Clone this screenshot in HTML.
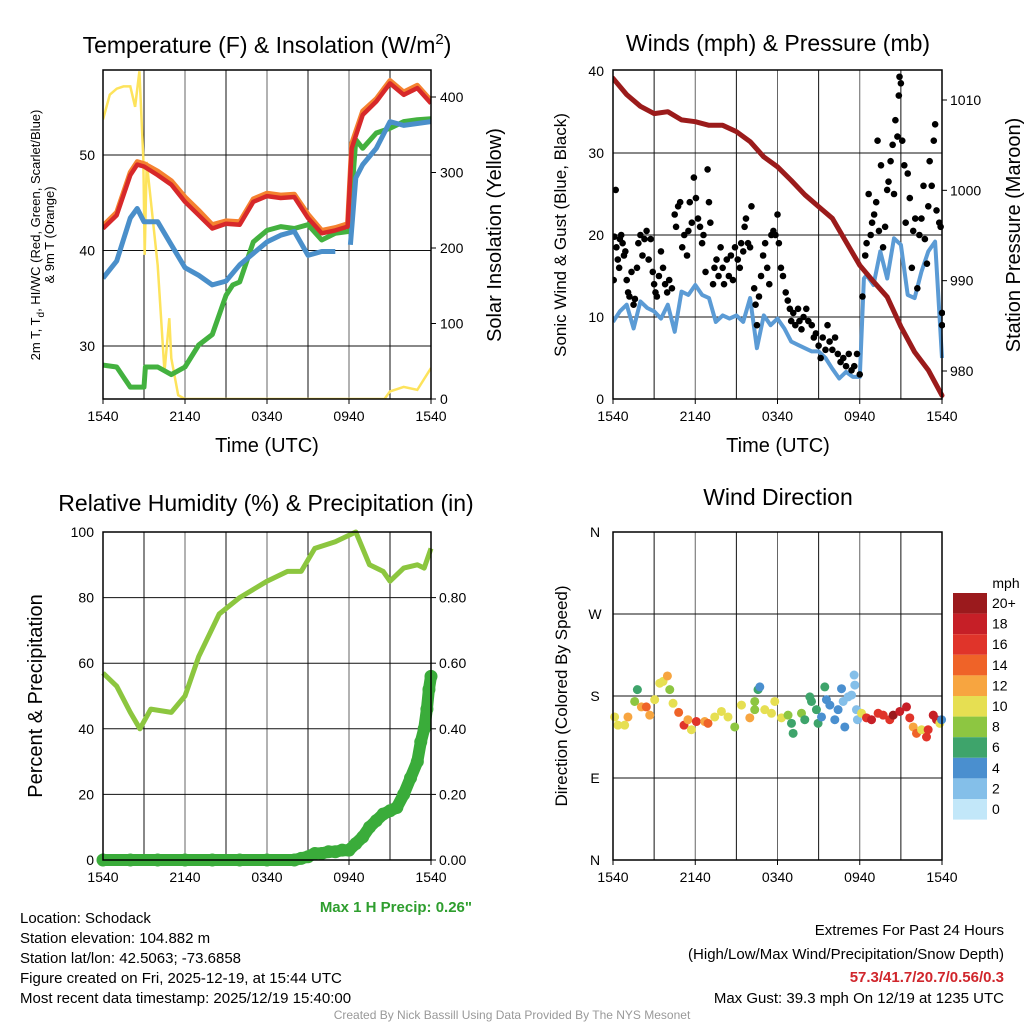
<!DOCTYPE html>
<html><head><meta charset="utf-8"><style>
body{margin:0;background:#fff;}
svg{display:block;font-family:"Liberation Sans",sans-serif;}
</style></head><body>
<svg id="s" width="1024" height="1024" viewBox="0 0 1024 1024"></svg>
<script>
// ---------- DATA ----------
const tHours=[0,1,2,2.5,3,4,5,6,7,8,9,10,11,12,13,14,15,16,17,17.9,18.2,19,20,21,22,23,24];
const tempVals=[42.3,43.7,47.9,49,48.8,47.9,46.9,45.1,43.7,42.3,42.8,42.7,45.1,45.7,45.5,45.6,43.4,41.8,42.1,42.5,50.7,54.2,55.6,57.5,56.3,57,55.4];
const temp9Vals=[42.6,44,48.2,49.3,49.1,48.3,47.3,45.6,44.2,42.7,43.1,43,45.4,46,45.8,45.9,43.8,42.1,42.4,42.8,51.2,54.6,55.9,57.8,56.6,57.3,55.7];
const tdHours=[0,1,2,3,3.1,4,5,6,7,8,9,9.5,10,11,12,13,14,15,16,17,18,18.5,19,20,21,22,23,24];
const tdVals=[28,27.8,25.7,25.7,27.8,27.8,27,27.8,30.1,31.2,35.3,36.4,36.7,40.9,42.1,42.5,42.3,42.7,41.1,41.8,42,51.6,50.7,52.3,52.8,53.5,53.7,53.8];
const wcHours=[0,1,2,2.5,3,4,5,6,7,8,9,10,11,12,13,14,15,16,17,17.5,18.1,18.5,19,20,21,22,23,24];
const wcVals=[37.1,38.9,43.4,44.4,43,43,40.6,38.2,37.4,36.4,36.8,38.5,39.7,40.9,41.6,42,39.5,39.9,39.9,null,40.6,47.6,49,50.7,53.5,53.1,53.3,53.5];
const solarHours=[0,0.5,1,1.5,2,2.35,2.66,2.95,3.05,3.2,4,4.5,4.85,5,5.5,6,20.6,21,22,23,24];
const solarVals=[370,403,411,414,414,387,434,319,191,314,177,36,107,54,5,0,0,10,16,12,41];
const presHours=[0,1,2,3,4,5,6,7,8,9,10,11,12,13,14,15,16,17,18,19,20,21,22,23,24];
const presVals=[1012.4,1010.6,1009.3,1008.5,1008.7,1007.8,1007.6,1007.2,1007.2,1006.5,1005.4,1003.7,1002.6,1001.1,999.5,998.2,996.9,994.3,991.7,989.9,988.2,984.9,982.1,980.1,977.3];
const windHours=[0,0.5,1,1.5,2,2.5,3,3.5,4,4.5,5,5.5,6,6.5,7,7.5,8,8.5,9,9.5,10,10.5,11,11.5,12,12.5,13,13.5,14,14.5,15,15.5,16,16.5,17,17.5,18,18.3,18.5,19,19.5,20,20.5,21,21.5,22,22.5,23,23.5,24];
const windVals=[9.4,10.7,11.5,8.6,11.9,11.1,10.7,9.8,11.5,8.2,13.1,12.7,13.9,12.7,12.3,9.4,10.2,9.8,10.2,9.4,12.3,6.2,10.2,9,9.8,8.6,7,6.6,6.2,5.8,5.8,5,3.7,2.5,3.3,2.7,2.7,14.7,15.1,13.9,18,14.7,19.6,18.8,12.7,12.3,15.5,18,19.2,5];
const gustHours=[0.05,0.1,0.2,0.25,0.35,0.45,0.5,0.6,0.7,0.8,0.9,1.0,1.1,1.2,1.35,1.5,1.6,1.75,1.85,2.0,2.15,2.3,2.45,2.6,2.75,2.9,3.0,3.1,3.2,3.35,3.5,3.65,3.8,3.95,4.1,4.3,4.5,4.6,4.75,4.9,5.05,5.2,5.4,5.5,5.6,5.75,5.9,6.05,6.2,6.35,6.5,6.6,6.75,6.9,7.0,7.1,7.3,7.4,7.55,7.7,7.85,8.0,8.1,8.3,8.45,8.6,8.75,8.9,9.1,9.25,9.35,9.5,9.6,9.7,9.85,10.0,10.1,10.3,10.4,10.5,10.65,10.8,10.95,11.1,11.25,11.4,11.55,11.7,11.85,12.0,12.1,12.25,12.4,12.6,12.75,12.9,13.0,13.15,13.3,13.5,13.6,13.75,13.9,14.1,14.25,14.5,14.65,14.8,15.0,15.15,15.3,15.5,15.65,15.8,16.0,16.2,16.4,16.6,16.8,17.0,17.2,17.4,17.6,17.8,18.0,18.2,18.4,18.5,18.65,18.8,18.9,19.05,19.2,19.3,19.4,19.55,19.7,19.85,20.0,20.1,20.25,20.4,20.5,20.6,20.75,20.85,20.9,21.0,21.1,21.25,21.35,21.5,21.65,21.8,21.9,22.05,22.2,22.35,22.5,22.65,22.75,22.9,23.0,23.1,23.25,23.4,23.5,23.6,23.8,23.9,24.0,24.0];
const gustVals=[14.5,19.8,25.5,18.5,17,16,19.5,20,19,17.5,18,14.5,13,12.5,15.5,11.5,12.2,16,19,20,17.5,19.5,20.5,17,19.5,15.5,14,13,12.5,15,18,16,14,13,14.5,13.5,22.5,21,23.5,24,18.5,20,17.5,20.5,24,21.5,27,24.5,22,21,19,20,15.5,28,24,21.5,14,16,17,15,18.5,16,14,17,15,17.5,14.5,18.5,17,16,19,18,21,22,19,18.5,23.5,13.5,11.5,9,12.5,15,17.5,19,16,14,20,20.5,20,22.5,19,16,15,13,12,11,9.5,10.5,9,11,9.5,8.5,10,11,9.5,9,7.5,8,6.5,5,7.5,6,9,7,6,7.5,5.5,4.5,5,4,5.5,3.5,4,5.5,3,12.5,17.5,19,25,20,21.5,22.5,24,31.5,20.5,28.5,18.5,21,25.5,26.5,29,31,25,34,32,37,39.3,38.5,31.5,28.5,21.5,27.5,24.5,16,20.5,22,13.5,20,22,26,19.5,16.5,23.5,29,26,31.5,33.5,23,21.5,21,10.5,9];
const rhHours=[0,1,2,2.7,3.5,5,6,7,8.5,10,12,13.5,14.5,15.5,17,18,18.5,19.5,20.5,21,22,23,23.5,24];
const rhVals=[57,53,45,40,46,45,50,62,75,80,85,88,88,95,97,99,100,90,88,85,89,90,89,95];
const pcpHours=[0,2,4,6,8,10,12,14,14.5,15,15.5,16,16.5,17,17.5,18,18.5,19,19.5,20,20.5,21,21.5,22,22.5,23,23.25,23.5,23.7,23.85,24];
const pcpVals=[0,0,0,0,0,0,0,0,0.005,0.01,0.02,0.02,0.025,0.025,0.03,0.03,0.05,0.07,0.1,0.12,0.14,0.15,0.16,0.2,0.25,0.3,0.36,0.4,0.46,0.52,0.56];
const dirHours=[0.12,0.36,0.85,1.09,1.58,1.78,2.07,2.43,2.68,3.04,3.41,3.65,3.97,4.14,4.38,4.79,5.18,5.47,5.72,6.08,6.69,6.93,7.42,7.91,8.39,8.88,9.37,9.98,10.34,10.34,10.58,10.71,11.07,11.56,11.8,12.29,12.77,13.02,13.14,13.75,13.99,14.36,14.48,14.84,14.96,15.21,15.45,15.57,15.82,16.18,16.42,16.67,16.79,16.91,17.15,17.4,17.59,17.64,17.76,17.83,18.13,18.49,18.86,19.34,19.71,20.19,20.44,20.92,21.41,21.65,21.9,22.14,22.51,22.87,22.99,23.36,23.6,23.84,23.97];
const dirVals=[157,148,148,157,174,187,168,168,159,176,194,196,202,187,172,162,148,154,143,152,152,150,157,163,157,146,170,156,165,174,187,190,165,161,174,156,159,150,139,161,154,179,174,165,150,157,190,176,170,154,165,188,174,146,179,181,203,192,165,154,161,156,154,161,159,154,159,163,168,156,146,139,143,135,143,159,154,150,154];
const dirSpeeds=[9,10,10,12,7,6,12,14,12,10,10,10,12,8,10,14,15,12,10,15,12,14,10,10,9,8,10,12,7,7,6,4,10,10,10,10,8,6,6,7,6,6,6,6,6,4,6,4,3,4,4,4,2,4,2,2,2,2,2,2,10,16,17,15,16,16,19,18,17,16,12,13,10,16,15,17,17,10,4];
const speedLabels=["20+","18","16","14","12","10","8","6","4","2","0"];
const speedColors=["#9b1a1d","#c61f27","#e0342a","#ef6328","#f7a540","#e6df52","#8dc641","#3ea46b","#4a8fcf","#84bfe9","#c2e7f9"];
const timeLabels=["1540","2140","0340","0940","1540"];

// ---------- HELPERS ----------
const NS="http://www.w3.org/2000/svg", S=document.getElementById('s');
function el(tag,attrs,parent,txt){const e=document.createElementNS(NS,tag);for(const k in attrs)e.setAttribute(k,attrs[k]);if(txt!==undefined)e.textContent=txt;(parent||S).appendChild(e);return e;}
function lin(d0,d1,r0,r1){return v=>r0+(v-d0)*(r1-r0)/(d1-d0);}
function pathFrom(xs,ys,fx,fy){let d="",pen=false;for(let i=0;i<xs.length;i++){if(ys[i]===null){pen=false;continue;}d+=(pen?"L":"M")+fx(xs[i]).toFixed(1)+","+fy(ys[i]).toFixed(1);pen=true;}return d;}
function text(x,y,s,size,anchor,extra,name){const t=el('text',Object.assign({x:x,y:y,'font-size':size,'text-anchor':anchor||'middle',fill:'#000'},extra||{}),S,s);return t;}
function frame(x0,y0,x1,y1,name){
  const g=el('g',{});
  for(let h=3;h<24;h+=3){const x=x0+(x1-x0)*h/24;el('line',{x1:x,y1:y0,x2:x,y2:y1,stroke:h%6?'#111':'#666','stroke-width':1},g);}
  for(let i=0;i<5;i++){const x=x0+(x1-x0)*i/4;el('line',{x1:x,y1:y1,x2:x,y2:y1+5,stroke:'#000'},g);
    const t=text(x,y1+22,timeLabels[i],14,'middle',{},'x-tick-label');}
  return g;}
function box(x0,y0,x1,y1){const r=el('rect',{x:x0,y:y0,width:x1-x0,height:y1-y0,fill:'none',stroke:'#000','stroke-width':1.5});}

// ---------- PANEL 1 ----------
{const X0=103,X1=431,Y0=70,Y1=399;
 const fx=lin(0,24,X0,X1), fy=lin(30,50,346,155), fs=lin(0,400,399,97);
 frame(X0,Y0,X1,Y1,'temperature-grid');
 [30,40,50].forEach(v=>{el('line',{x1:X0,x2:X1,y1:fy(v),y2:fy(v),stroke:'#111'});const t=text(X0-8,fy(v)+5,String(v),14,'end',{},'y-tick-label');});
 [0,100,200,300,400].forEach(v=>{el('line',{x1:X1,x2:X1+5,y1:fs(v),y2:fs(v),stroke:'#000'});text(X1+9,fs(v)+5,String(v),14,'start',{},'solar-tick-label');});
 const cp=el('clipPath',{id:'c1'});el('rect',{x:X0,y:Y0,width:X1-X0,height:Y1-Y0},cp);
 const g=el('g',{'clip-path':'url(#c1)'});
 let p;
 p=el('path',{d:pathFrom(solarHours,solarVals,fx,fs),fill:'none',stroke:'#fde35c','stroke-width':2.5},g);
 p=el('path',{d:pathFrom(tdHours,tdVals,fx,fy),fill:'none',stroke:'#43b13f','stroke-width':5,'stroke-linejoin':'round'},g);
 p=el('path',{d:pathFrom(wcHours,wcVals,fx,fy),fill:'none',stroke:'#4a8fca','stroke-width':5,'stroke-linejoin':'round'},g);
 p=el('path',{d:pathFrom(tHours,temp9Vals,fx,fy),fill:'none',stroke:'#f58230','stroke-width':5,'stroke-linejoin':'round'},g);
 p=el('path',{d:pathFrom(tHours,tempVals,fx,fy),fill:'none',stroke:'#d7282a','stroke-width':4.5,'stroke-linejoin':'round'},g);
 box(X0,Y0,X1,Y1);
 const t=text(267,53,'',23,'middle',{},'temperature-title');t.innerHTML='Temperature (F) &amp; Insolation (W/m<tspan dy="-9" font-size="15">2</tspan><tspan dy="9">)</tspan>';
 text(267,452,'Time (UTC)',20,'middle',{},'x-axis-title');
 const a=text(0,0,'',13,'middle',{transform:'translate(40,235) rotate(-90)'},'temperature-y-axis-title');a.innerHTML='2m T, T<tspan dy="4" font-size="10">d</tspan><tspan dy="-4">, HI/WC (Red, Green, Scarlet/Blue)</tspan>';
 text(0,0,'',13,'middle',{transform:'translate(54,235) rotate(-90)'},'temperature-y-axis-title-2').textContent='& 9m T (Orange)';
 text(0,0,'Solar Insolation (Yellow)',20,'middle',{transform:'translate(501,235) rotate(-90)'},'solar-y-axis-title');
}
// ---------- PANEL 2 ----------
{const X0=613,X1=942,Y0=70,Y1=399;
 const fx=lin(0,24,X0,X1), fy=lin(0,40,399,71), fp=lin(980,1010,371,100);
 frame(X0,Y0,X1,Y1,'winds-grid');
 [0,10,20,30,40].forEach(v=>{if(v>0&&v<40)el('line',{x1:X0,x2:X1,y1:fy(v),y2:fy(v),stroke:'#111'});text(X0-9,fy(v)+5,String(v),14,'end',{},'wind-tick-label');});
 [980,990,1000,1010].forEach(v=>{el('line',{x1:X1,x2:X1+5,y1:fp(v),y2:fp(v),stroke:'#000'});text(X1+8,fp(v)+5,String(v),14,'start',{},'pressure-tick-label');});
 const cp=el('clipPath',{id:'c2'});el('rect',{x:X0,y:Y0-3,width:X1-X0+3,height:Y1-Y0+6},cp);
 const g=el('g',{'clip-path':'url(#c2)'});
 let p=el('path',{d:pathFrom(windHours,windVals,fx,fy),fill:'none',stroke:'#5b9bd5','stroke-width':4,'stroke-linejoin':'round'},g);
 for(let i=0;i<gustHours.length;i++){const c=el('circle',{cx:fx(gustHours[i]),cy:fy(gustVals[i]),r:3.3,fill:'#000'},g);}
 p=el('path',{d:pathFrom(presHours,presVals,fx,fp),fill:'none',stroke:'#9b1b1b','stroke-width':5,'stroke-linejoin':'round','stroke-linecap':'round'},g);
 box(X0,Y0,X1,Y1);
 text(778,51,'Winds (mph) & Pressure (mb)',23,'middle',{},'winds-title');
 text(778,452,'Time (UTC)',20,'middle',{},'x-axis-title-2');
 text(0,0,'Sonic Wind & Gust (Blue, Black)',17,'middle',{transform:'translate(566,235) rotate(-90)'},'wind-y-axis-title');
 text(0,0,'Station Pressure (Maroon)',20,'middle',{transform:'translate(1020,235) rotate(-90)'},'pressure-y-axis-title');
}
// ---------- PANEL 3 ----------
{const X0=103,X1=431,Y0=532,Y1=860;
 const fx=lin(0,24,X0,X1), fy=lin(0,100,860,532), fr=lin(0,1,860,532);
 frame(X0,Y0,X1,Y1,'humidity-grid');
 [0,20,40,60,80,100].forEach(v=>{if(v>0&&v<100)el('line',{x1:X0,x2:X1,y1:fy(v),y2:fy(v),stroke:'#111'});text(X0-9,fy(v)+5,String(v),14,'end',{},'rh-tick-label');});
 [0,0.2,0.4,0.6,0.8].forEach(v=>{el('line',{x1:X1,x2:X1+5,y1:fr(v),y2:fr(v),stroke:'#000'});text(X1+8,fr(v)+5,v.toFixed(2),14,'start',{},'precip-tick-label');});
 let p=el('path',{d:pathFrom(rhHours,rhVals,fx,fy),fill:'none',stroke:'#8cc63f','stroke-width':5,'stroke-linejoin':'round'});
 p=el('path',{d:pathFrom(pcpHours,pcpVals,fx,fr),fill:'none',stroke:'#3aac3a','stroke-width':12,'stroke-linejoin':'round','stroke-linecap':'round'});
 for(let i=0;i<pcpHours.length;i++){const c=el('circle',{cx:fx(pcpHours[i]),cy:fr(pcpVals[i]),r:6.5,fill:'#3aac3a'});}
 box(X0,Y0,X1,Y1);
 text(266,511,'Relative Humidity (%) & Precipitation (in)',23,'middle',{},'humidity-title');
 text(0,0,'Percent & Precipitation',20,'middle',{transform:'translate(42,696) rotate(-90)'},'rh-y-axis-title');
 text(472,912,'Max 1 H Precip: 0.26"',15,'end',{fill:'#2e9e2e','font-weight':'bold'},'max-precip-label');
}
// ---------- PANEL 4 ----------
{const X0=613,X1=942,Y0=532,Y1=860;
 const fx=lin(0,24,X0,X1), fy=lin(0,360,860,532);
 frame(X0,Y0,X1,Y1,'direction-grid');
 const dl=['N','E','S','W','N'];
 [0,90,180,270,360].forEach((v,i)=>{if(v>0&&v<360)el('line',{x1:X0,x2:X1,y1:fy(v),y2:fy(v),stroke:'#111'});text(X0-18,fy(v)+5,dl[i],14,'middle',{},'direction-tick-label');});
 for(let i=0;i<dirHours.length;i++){const k=Math.min(10,Math.floor((dirSpeeds[i]+1)/2));const c=el('circle',{cx:fx(dirHours[i]),cy:fy(dirVals[i]),r:4.5,fill:speedColors[10-k]});}
 box(X0,Y0,X1,Y1);
 text(778,505,'Wind Direction',23,'middle',{},'direction-title');
 text(0,0,'Direction (Colored By Speed)',17,'middle',{transform:'translate(567,696) rotate(-90)'},'direction-y-axis-title');
 text(1006,588,'mph',14,'middle',{},'colorbar-title');
 for(let i=0;i<11;i++){const y=593+i*20.6;const r=el('rect',{x:953,y:y,width:34,height:20.6,fill:speedColors[i]});
  text(992,y+15,speedLabels[i],14,'start',{},'colorbar-label');}
}
// ---------- FOOTER ----------
['Location: Schodack','Station elevation: 104.882 m','Station lat/lon: 42.5063; -73.6858','Figure created on Fri, 2025-12-19, at 15:44 UTC','Most recent data timestamp: 2025/12/19 15:40:00'].forEach((s,i)=>text(20,923+i*20,s,15,'start',{},'station-info-line'));
text(1004,935,'Extremes For Past 24 Hours',15,'end',{},'extremes-title');
text(1004,959,'(High/Low/Max Wind/Precipitation/Snow Depth)',15,'end',{},'extremes-subtitle');
text(1004,982,'57.3/41.7/20.7/0.56/0.3',15,'end',{fill:'#d0262c','font-weight':'bold'},'extremes-values');
text(1004,1003,'Max Gust: 39.3 mph On 12/19 at 1235 UTC',15,'end',{},'max-gust-label');
text(512,1019,'Created By Nick Bassill Using Data Provided By The NYS Mesonet',12,'middle',{fill:'#999'},'credit-line');
</script>
</body></html>
